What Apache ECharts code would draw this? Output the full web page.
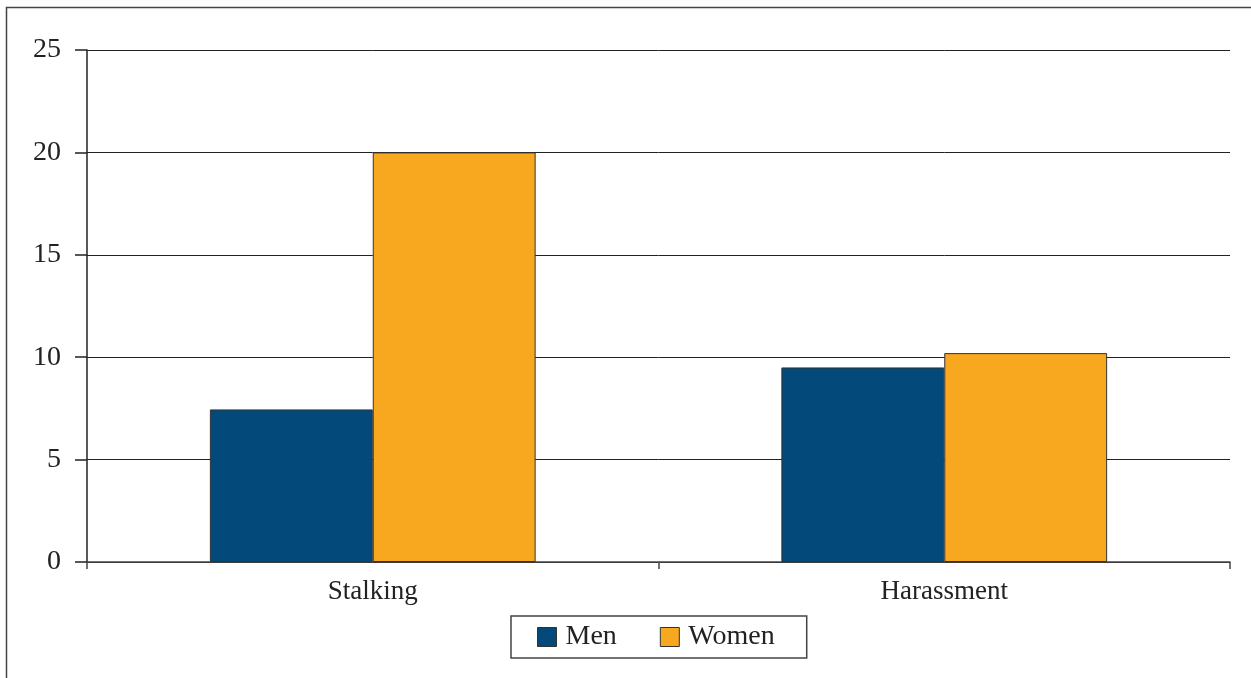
<!DOCTYPE html>
<html>
<head>
<meta charset="utf-8">
<script src="https://cdn.jsdelivr.net/npm/echarts@6/dist/echarts.min.js"></script>
<style>
  html, body { margin: 0; padding: 0; background: #fff; }
  #chart { width: 1251px; height: 678px; }
</style>
</head>
<body>
<div id="chart"></div>
<script>
// chart values
const categories = ['Stalking', 'Harassment']
const menValues = [7.45, 9.5]
const womenValues = [20.0, 10.2]
const seriesNames = ['Men', 'Women']

const font = '"Liberation Serif", "DejaVu Serif", serif'
const chart = echarts.init(document.getElementById('chart'))

const option = {
    animation: false,
    backgroundColor: '#fff',
    graphic: [
        {
            // outer frame (right and bottom edges fall outside the picture)
            type: 'rect',
            shape: { x: 6.5, y: 7.5, width: 1300, height: 720 },
            style: { fill: 'none', stroke: '#444', lineWidth: 1.5 },
            silent: true
        }
    ],
    grid: {
        left: 87,
        right: 21,
        top: 50,
        bottom: 116
    },
    legend: {
        data: seriesNames,
        left: 511,
        top: 616,
        orient: 'horizontal',
        padding: [7, 32, 7, 26],
        borderColor: '#444',
        borderWidth: 1.5,
        itemWidth: 19,
        itemHeight: 19,
        itemGap: 43,
        icon: 'rect',
        itemStyle: { borderColor: '#333', borderWidth: 1 },
        textStyle: {
            fontFamily: font,
            fontSize: 28,
            color: '#222',
            padding: [0, 0, 0, 4]
        }
    },
    xAxis: {
        type: 'category',
        data: categories,
        axisLine: { show: true, lineStyle: { color: '#444', width: 1.5 } },
        axisTick: { show: true, length: 7, lineStyle: { color: '#444', width: 1.5 } },
        axisLabel: {
            fontFamily: font,
            fontSize: 27,
            color: '#222',
            margin: 16
        }
    },
    yAxis: {
        type: 'value',
        min: 0,
        max: 25,
        interval: 5,
        axisLine: { show: true, lineStyle: { color: '#222', width: 1.5 } },
        axisTick: { show: true, inside: false, length: 12, lineStyle: { color: '#222', width: 1.5 } },
        splitLine: { show: true, lineStyle: { color: '#222', width: 1 } },
        axisLabel: {
            fontFamily: font,
            fontSize: 28,
            color: '#222',
            margin: 26
        }
    },
    series: [
        {
            name: 'Men',
            type: 'bar',
            data: menValues,
            barGap: '0%',
            barCategoryGap: '43%',
            itemStyle: { color: '#034a7a', borderColor: '#333', borderWidth: 1 }
        },
        {
            name: 'Women',
            type: 'bar',
            data: womenValues,
            itemStyle: { color: '#f8a81f', borderColor: '#333', borderWidth: 1 }
        }
    ]
}

option && chart.setOption(option)
</script>
</body>
</html>
